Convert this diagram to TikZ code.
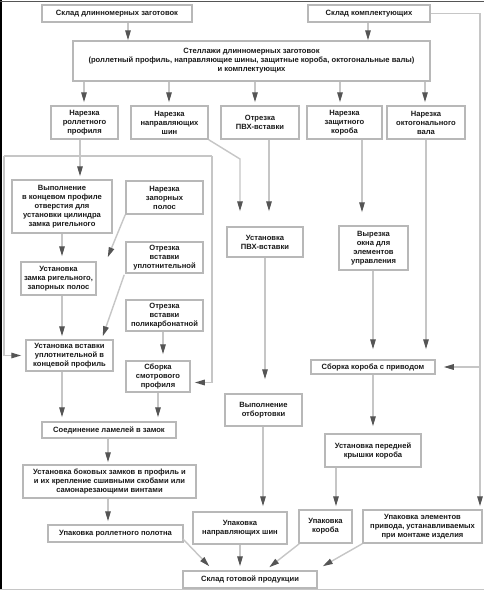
\documentclass[tikz,border=0pt]{standalone}
\usepackage{fontspec}
\setmainfont{Liberation Sans}
\usetikzlibrary{arrows.meta,calc}
\definecolor{boxgray}{HTML}{B8B8B8}
\definecolor{linegray}{HTML}{C6C6C6}
\definecolor{headgray}{HTML}{555555}
\definecolor{txt}{HTML}{1A1A1A}
\begin{document}
\begin{tikzpicture}[x=1pt,y=-1pt,
 box/.style={draw=boxgray,line width=1.5pt,fill=white,align=center,text=txt,font=\fontsize{7.6}{9}\selectfont\bfseries,inner sep=0.5pt},
 sz/.style 2 args={minimum width=#1pt,minimum height=#2pt},
 ln/.style={draw=linegray,line width=1.4pt},
 arr/.style={ln,-{Triangle[length=10pt,width=5.5pt,color=headgray]}},
]
\useasboundingbox (0,0) rectangle (484,590);
\fill[white] (0,0) rectangle (484,590);
% frame
\draw[black,line width=2pt] (1,0) -- (1,590);
\draw[headgray,line width=1pt] (0,1) -- (484,1);
\draw[linegray,line width=1pt] (0,589) -- (484,589);

% nodes
\node[box,sz={150}{17}] (sklad1) at (117,13.5) {Склад длинномерных заготовок};
\node[box,sz={122}{17}] (sklad2) at (369,13.5) {Склад комплектующих};
\node[box,sz={357}{40}] (stell) at (251.5,61) {Стеллажи длинномерных заготовок\\(роллетный профиль, направляющие шины, защитные короба, октогональные валы)\\и комплектующих};
\node[box,sz={67}{33}] (n1) at (84.5,122.5) {Нарезка\\роллетного\\профиля};
\node[box,sz={77}{33}] (n2) at (169.5,122.5) {Нарезка\\направляющих\\шин};
\node[box,sz={78}{33}] (n3) at (260,122.5) {Отрезка\\ПВХ-вставки};
\node[box,sz={75}{33}] (n4) at (344.5,122.5) {Нарезка\\защитного\\короба};
\node[box,sz={78}{33}] (n5) at (426,122.5) {Нарезка\\октогонального\\вала};
\node[box,sz={100}{53}] (vyp) at (62,206.5) {Выполнение\\в концевом профиле\\отверстия для\\установки цилиндра\\замка ригельного};
\node[box,sz={77}{33}] (zap) at (164.5,197.5) {Нарезка\\запорных\\полос};
\node[box,sz={76}{30}] (ustpvh) at (265,242) {Установка\\ПВХ-вставки};
\node[box,sz={69}{44}] (vyrez) at (373.5,248) {Вырезка\\окна для\\элементов\\управления};
\node[box,sz={75}{33}] (zamok) at (58.5,278.5) {Установка\\замка ригельного,\\запорных полос};
\node[box,sz={77}{31}] (otrupl) at (164.5,257.5) {Отрезка\\вставки\\уплотнительной};
\node[box,sz={77}{31}] (otrpol) at (164.5,315.5) {Отрезка\\вставки\\поликарбонатной};
\node[box,sz={87}{31}] (ustvst) at (69.5,355.5) {Установка вставки\\уплотнительной в\\концевой профиль};
\node[box,sz={64}{31}] (sbsm) at (158,376.5) {Сборка\\смотрового\\профиля};
\node[box,sz={124}{14}] (sbkor) at (373,367) {Сборка короба с приводом};
\node[box,sz={77}{32}] (otbort) at (263.5,410) {Выполнение\\отбортовки};
\node[box,sz={134}{16}] (soed) at (109,430) {Соединение ламелей в замок};
\node[box,sz={96}{33}] (kryshka) at (373,450.5) {Установка передней\\крышки короба};
\node[box,sz={173}{33}] (bok) at (109.5,481.5) {Установка боковых замков в профиль и\\и их крепление сшивными скобами или\\самонарезающими винтами};
\node[box,sz={94}{32}] (upnapr) at (240,528) {Упаковка\\направляющих шин};
\node[box,sz={53}{33}] (upkor) at (325.5,526.5) {Упаковка\\короба};
\node[box,sz={119}{33}] (upel) at (422.5,526.5) {Упаковка элементов\\привода, устанавливаемых\\при монтаже изделия};
\node[box,sz={135}{17}] (uprol) at (115.5,533.5) {Упаковка роллетного полотна};
\node[box,sz={134}{17}] (gotov) at (250,579.5) {Склад готовой продукции};

% column coordinates
\coordinate (c62) at (62,0);
\coordinate (c80) at (80,0);
\coordinate (c84) at (84,0);
\coordinate (c108) at (108,0);
\coordinate (c128) at (128,0);
\coordinate (c158) at (158,0);
\coordinate (c163) at (163,0);
\coordinate (c169) at (169,0);
\coordinate (c240) at (240,0);
\coordinate (c255) at (255,0);
\coordinate (c263) at (263,0);
\coordinate (c265) at (265,0);
\coordinate (c269) at (269,0);
\coordinate (c336) at (336,0);
\coordinate (c340) at (340,0);
\coordinate (c362) at (362,0);
\coordinate (c368) at (368,0);
\coordinate (c373) at (373,0);
\coordinate (c425) at (425,0);
\coordinate (c426) at (426,0);
\coordinate (c480) at (480,0);

% connectors
\draw[arr] (sklad1.south -| c128) -- (stell.north -| c128);
\draw[arr] (sklad2.south -| c368) -- (stell.north -| c368);
\draw[arr,shorten >=3pt] (sklad2.east) -- (sklad2.east -| c480) -- (upel.north -| c480);
\draw[arr,shorten >=8pt] (sbkor.east -| c480) -- (sbkor.east);
\foreach \c/\n in {c84/n1,c169/n2,c255/n3,c340/n4,c425/n5}
  \draw[arr,shorten >=3pt] (stell.south -| \c) -- (\n.north -| \c);
\draw[arr,shorten >=3pt] (n1.south -| c80) -- (vyp.north -| c80);
\coordinate (tl) at (4,156);
\coordinate (tr) at (212,156);
\draw[ln] (tl) -- (tr);
\draw[arr,shorten >=4pt] (tl) -- (ustvst.west -| tl) -- (ustvst.west);
\coordinate (sbin) at ($(sbsm.east)+(0,6)$);
\draw[arr,shorten >=4pt] (tr) -- (sbin -| tr) -- (sbin);
\coordinate (bend) at (240,159);
\draw[arr,shorten >=15pt] (n2.south east) -- (bend) -- (ustpvh.north -| bend);
\draw[arr,shorten >=15pt] (n3.south -| c269) -- (ustpvh.north -| c269);
\draw[arr,shorten >=13pt] (n4.south -| c362) -- (vyrez.north -| c362);
\draw[arr,shorten >=10pt] (n5.south -| c426) -- (sbkor.north -| c426);
\draw[arr,shorten >=10pt] (vyrez.south -| c373) -- (sbkor.north -| c373);
\draw[arr,shorten >=5pt] (vyp.south -| c62) -- (zamok.north -| c62);
\draw[arr] (zap.south west) -- ($(zamok.north east)+(11,-4)$);
\draw[arr] ($(otrupl.south west)+(-1,1)$) -- ($(ustvst.north east)+(-11,-3)$);
\draw[arr,shorten >=3pt] (zamok.south -| c62) -- (ustvst.north -| c62);
\draw[arr,shorten >=6pt] (otrpol.south -| c163) -- (sbsm.north -| c163);
\draw[arr,shorten >=4pt] (ustvst.south -| c62) -- (soed.north -| c62);
\draw[arr,shorten >=4pt] (sbsm.south -| c158) -- (soed.north -| c158);
\draw[arr,shorten >=2pt] (soed.south -| c108) -- (bok.north -| c108);
\draw[arr,shorten >=3pt] (bok.south -| c108) -- (uprol.north -| c108);
\draw[arr] ($(uprol.south east)+(-1,-4)$) -- ($(gotov.north west)+(27,-4)$);
\draw[arr,shorten >=14pt] (ustpvh.south -| c265) -- (otbort.north -| c265);
\draw[arr,shorten >=5pt] (otbort.south -| c263) -- (upnapr.north -| c263);
\draw[arr,shorten >=7pt] (sbkor.south -| c373) -- (kryshka.north -| c373);
\draw[arr,shorten >=3pt] (kryshka.south -| c336) -- (upkor.north -| c336);
\draw[arr,shorten >=4pt] (upnapr.south -| c240) -- (gotov.north -| c240);
\draw[arr] ($(upkor.south west)+(1,0)$) -- ($(gotov.north west)+(87,-3)$);
\draw[arr] (upel.south west) -- ($(gotov.north east)+(5,-4)$);
\end{tikzpicture}
\end{document}
